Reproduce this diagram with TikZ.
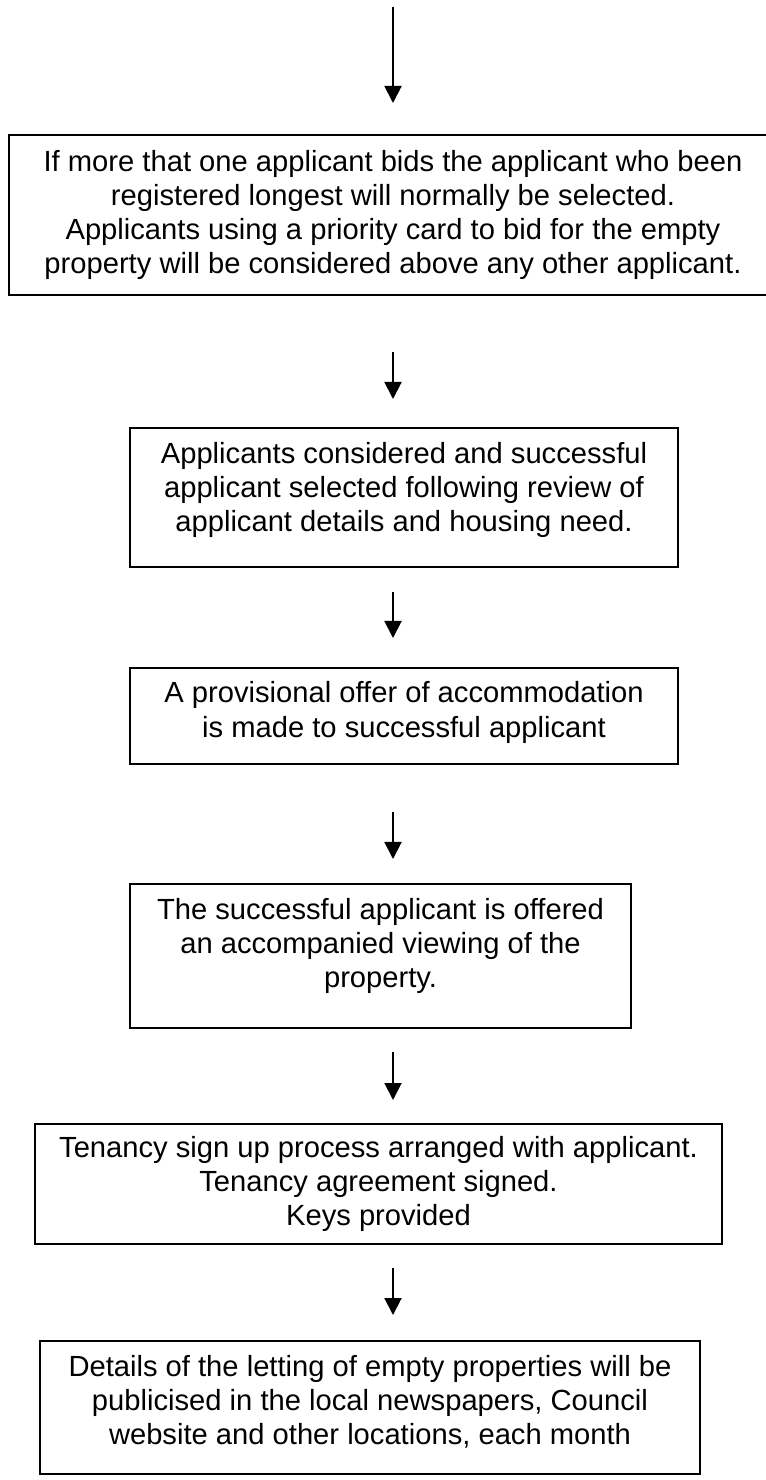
\documentclass[tikz,border=0pt]{standalone}
\usepackage{fontspec}
\setmainfont{Liberation Sans}
\usetikzlibrary{arrows.meta}
\tikzset{
  stepbox/.style={draw, line width=0.8pt, align=center, inner sep=0pt,
    font={\fontsize{12}{14}\selectfont}},
  flow/.style={line width=0.8pt, -{Triangle[length=7pt,width=7pt]}}
}
\begin{document}
\begin{tikzpicture}[x=0.4115pt, y=-0.4115pt]
  \useasboundingbox (0,0) rectangle (765,1480);
  % boxes
  \node[stepbox, minimum width=316pt, minimum height=65.8pt] (b1) at (393,215)
    {If more that one applicant bids the applicant who been\\registered longest will normally be selected.\\Applicants using a priority card to bid for the empty\\property will be considered above any other applicant.};
  \node[stepbox, minimum width=225.5pt, minimum height=57.2pt] (b2) at (404,497.5)
    {Applicants considered and successful\\applicant selected following review of\\applicant details and housing need.\\[-5.3pt]\mbox{}};
  \node[stepbox, minimum width=225.5pt, minimum height=39.5pt] (b3) at (404,716)
    {A provisional offer of accommodation\\ is made to successful applicant\\[-8.6pt]\mbox{}};
  \node[stepbox, minimum width=206.2pt, minimum height=59.3pt] (b4) at (380.5,956)
    {The successful applicant is offered\\an accompanied viewing of the\\property.\\[-3.3pt]\mbox{}};
  \node[stepbox, minimum width=282.7pt, minimum height=49.4pt] (b5) at (378.5,1184)
    {Tenancy sign up process arranged with applicant.\\Tenancy agreement signed.\\Keys provided};
  \node[stepbox, minimum width=271.6pt, minimum height=54.7pt] (b6) at (370,1407.5)
    {Details of the letting of empty properties will be\\publicised in the local newspapers, Council\\website and other locations, each month\\[-7.4pt]\mbox{}};
  % arrows
  \foreach \ys/\ye [count=\i] in {7/103, 352/399, 592/638, 812/859, 1052/1100, 1268/1315} {
    \coordinate (s\i) at (393,\ys);
    \coordinate (e\i) at (393,\ye);
    \draw[flow] (s\i) -- (e\i);
  }
\end{tikzpicture}
\end{document}
